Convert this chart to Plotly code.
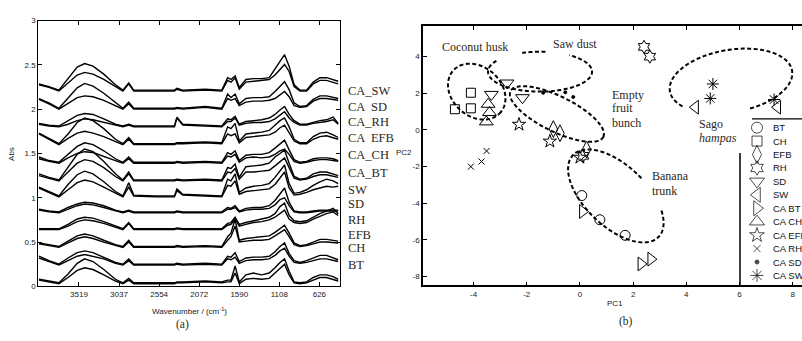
import numpy as np
import plotly.graph_objects as go

FIG_W, FIG_H = 802, 341

# ------------------------------------------------------------------
# (a) FTIR spectra (absorbance relative to each stacked baseline)
# ------------------------------------------------------------------
wavenumber = [4000, 3880, 3760, 3650, 3540, 3450, 3350, 3220, 3080, 2990,
              2920, 2860, 2600, 2370, 2340, 2270, 2000, 1800, 1730, 1690,
              1640, 1590, 1510, 1420, 1320, 1230, 1160, 1100, 1045, 990,
              930, 860, 780, 700, 620, 540, 460, 400]

group_labels = ["CA_SW", "CA  SD", "CA_RH", "CA  EFB", "CA_CH", "CA_BT",
                "SW", "SD", "RH", "EFB", "CH", "BT"]
group_offsets = [2.205, 2.00, 1.80, 1.60, 1.39, 1.19, 1.01, 0.83, 0.64, 0.44, 0.24, 0.03]
label_levels = [2.20, 2.02, 1.855, 1.67, 1.485, 1.285, 1.09, 0.925, 0.75, 0.585, 0.43, 0.245]

ca_sw_lo = [.07, .04, 0, .09, .18, .21, .19, .13, .05, 0, .08, 0, 0, 0, .02, 0, .01, 0, .12, .10,
            .15, .02, .10, .11, .12, .13, .18, .24, .30, .22, .05, 0, 0, .08, .12, .12, .10, .08]
ca_sw_hi = [.08, .05, .01, .14, .27, .31, .28, .19, .07, .01, .09, .01, .01, .01, .03, .01, .02, .01, .15, .13,
            .17, .04, .13, .14, .14, .15, .25, .33, .41, .28, .07, .01, .01, .10, .15, .15, .13, .11]
ca_sd_lo = [.11, .06, 0, .07, .13, .15, .14, .10, .04, 0, .06, 0, 0, 0, .01, 0, .02, 0, .12, .10,
            .12, .04, .08, .09, .09, .10, .12, .16, .20, .14, .04, .02, .03, .09, .12, .12, .11, .10]
ca_sd_hi = [.12, .07, .01, .12, .24, .29, .26, .18, .07, .01, .08, .01, .01, .01, .02, .01, .03, .01, .17, .13,
            .17, .06, .12, .13, .13, .14, .20, .26, .31, .22, .07, .03, .04, .11, .15, .15, .13, .12]
ca_rh_lo = [.03, .01, 0, .03, .07, .09, .08, .05, .02, 0, .02, 0, 0, 0, .10, .02, .01, 0, .06, .06,
            .10, .02, .04, .05, .05, .06, .09, .13, .17, .10, .05, .02, .02, .04, .05, .06, .08, .03]
ca_rh_hi = [.04, .02, .01, .07, .13, .15, .14, .09, .03, .01, .03, .01, .01, .01, .11, .03, .02, .01, .09, .08,
            .12, .03, .06, .07, .08, .10, .14, .19, .23, .14, .07, .03, .03, .05, .07, .08, .11, .04]
ca_efb_lo = [.12, .06, 0, .07, .13, .15, .13, .09, .03, 0, .06, 0, 0, 0, .01, .01, .02, .01, .12, .10,
             .12, .02, .08, .09, .10, .11, .14, .19, .22, .14, .04, .01, .01, .06, .09, .10, .08, .06]
ca_efb_hi = [.13, .07, .01, .12, .25, .30, .27, .18, .06, .01, .08, .01, .01, .01, .02, .02, .03, .02, .20, .18,
             .24, .04, .12, .13, .14, .16, .22, .27, .30, .20, .06, .02, .02, .09, .13, .14, .11, .08]
ca_ch_lo = [.05, .02, 0, .06, .11, .13, .12, .08, .03, 0, .05, 0, 0, 0, .01, 0, .01, 0, .08, .07,
            .10, .01, .06, .07, .06, .07, .10, .14, .16, .10, .02, 0, .01, .03, .04, .04, .03, .02]
ca_ch_hi = [.07, .03, .01, .10, .19, .23, .21, .14, .05, .01, .07, .01, .01, .01, .02, .01, .02, .01, .12, .10,
            .14, .03, .09, .10, .10, .12, .17, .22, .26, .15, .04, .01, .02, .05, .06, .06, .05, .03]
ca_bt_lo = [.06, .03, 0, .10, .20, .24, .22, .15, .05, 0, .08, 0, 0, 0, .01, 0, .01, 0, .10, .09,
            .14, .02, .10, .10, .11, .12, .17, .22, .26, .15, .03, .01, .02, .05, .07, .07, .05, .04]
ca_bt_hi = [.08, .04, .01, .16, .30, .36, .33, .22, .08, .01, .10, .01, .01, .01, .02, .01, .02, .01, .15, .14,
            .19, .04, .16, .17, .18, .20, .27, .31, .35, .20, .05, .02, .03, .08, .10, .10, .08, .06]
sw_lo = [.10, .05, 0, .08, .16, .19, .17, .11, .04, 0, .11, .01, 0, 0, .07, .02, .01, 0, .13, .12,
         .18, .03, .06, .07, .08, .09, .14, .22, .28, .10, .02, .03, .05, .08, .10, .12, .11, .12]
sw_hi = [.11, .06, .01, .14, .25, .29, .26, .17, .06, .01, .16, .02, .01, .01, .09, .03, .02, .01, .20, .18,
         .26, .05, .10, .12, .13, .15, .22, .30, .36, .15, .04, .05, .08, .13, .17, .20, .18, .15]
sd_lo = [.03, .01, 0, .04, .08, .10, .09, .06, .02, 0, .02, 0, 0, 0, .01, 0, 0, 0, .04, .04,
         .06, .01, .03, .04, .04, .05, .09, .15, .17, .08, .01, 0, 0, .01, .02, .02, .02, .02]
sd_hi = [.04, .02, .01, .06, .10, .12, .11, .08, .03, .01, .03, .01, .01, .01, .02, .01, .01, .01, .06, .05,
         .08, .02, .05, .06, .06, .08, .14, .22, .28, .12, .02, .01, .01, .02, .03, .03, .03, .03]
rh_lo = [0, 0, 0, .04, .09, .11, .10, .07, .03, 0, .07, 0, 0, 0, .01, 0, 0, 0, .05, .06,
         .12, .04, .06, .08, .09, .11, .14, .18, .22, .12, .08, .07, .08, .12, .15, .18, .20, .16]
rh_hi = [.01, .01, .01, .06, .12, .14, .13, .09, .04, .01, .08, .01, .01, .01, .02, .01, .01, .01, .07, .08,
         .14, .06, .08, .10, .12, .14, .18, .26, .30, .16, .10, .09, .10, .14, .18, .21, .24, .18]
efb_lo = [.04, .02, 0, .05, .10, .12, .10, .06, .02, 0, .06, 0, 0, 0, .01, 0, .01, 0, .08, .12,
          .24, .06, .07, .08, .08, .09, .13, .17, .20, .12, .03, .01, .02, .04, .06, .06, .05, .05]
efb_hi = [.05, .03, .01, .07, .13, .15, .13, .08, .03, .01, .08, .01, .01, .01, .02, .01, .02, .01, .12, .16,
          .32, .08, .10, .11, .12, .13, .17, .21, .25, .16, .05, .02, .03, .06, .09, .09, .08, .07]
ch_lo = [.08, .04, 0, .05, .10, .12, .10, .07, .02, 0, .05, 0, 0, 0, .01, 0, .01, 0, .07, .06,
         .09, .02, .05, .06, .06, .07, .11, .16, .19, .10, .03, .02, .03, .05, .07, .07, .05, .04]
ch_hi = [.10, .05, .01, .08, .14, .16, .14, .09, .03, .01, .07, .01, .01, .01, .02, .01, .02, .01, .10, .09,
         .14, .04, .08, .09, .09, .10, .15, .21, .25, .13, .05, .03, .05, .08, .11, .11, .08, .06]
bt_lo = [.04, .02, 0, .07, .15, .18, .16, .10, .03, 0, .04, 0, 0, 0, .01, .01, .02, .01, .02, .02,
         .12, 0, .05, .06, .05, .06, .12, .17, .22, .10, .01, 0, .01, .04, .07, .07, .05, .03]
bt_hi = [.05, .03, .01, .11, .23, .28, .25, .16, .05, .01, .06, .01, .01, .01, .02, .02, .03, .02, .04, .04,
         .20, .02, .10, .12, .10, .12, .18, .24, .28, .14, .02, .01, .02, .07, .10, .10, .08, .05]

spectra_lo = [ca_sw_lo, ca_sd_lo, ca_rh_lo, ca_efb_lo, ca_ch_lo, ca_bt_lo,
              sw_lo, sd_lo, rh_lo, efb_lo, ch_lo, bt_lo]
spectra_hi = [ca_sw_hi, ca_sd_hi, ca_rh_hi, ca_efb_hi, ca_ch_hi, ca_bt_hi,
              sw_hi, sd_hi, rh_hi, efb_hi, ch_hi, bt_hi]

wn_ticks = [3519, 3037, 2554, 2072, 1590, 1108, 626]
abs_ticks = [0, 0.5, 1, 1.5, 2, 2.5, 3]
abs_tick_text = ["0", "0.5", "1", "1.5", "2", "2.5", "3"]

# ------------------------------------------------------------------
# (b) PCA score plot
# ------------------------------------------------------------------
bt_pc1, bt_pc2 = [0.07, 0.75, 1.70], [-3.58, -4.90, -5.75]
ch_pc1, ch_pc2 = [-4.70, -4.10, -4.10], [1.13, 2.03, 1.18]
efb_pc1, efb_pc2 = [-1.00, -0.75, 0.25], [0.05, -0.18, -1.06]
rh_pc1, rh_pc2 = [2.41, 2.63, 0.12], [4.53, 4.00, -1.41]
sd_pc1, sd_pc2 = [-2.74, -2.16, -3.33], [2.56, 1.76, 1.94]
sw_pc1, sw_pc2 = [4.34, 7.43], [1.24, 1.24]
cabt_pc1, cabt_pc2 = [0.10, 2.30, 2.67], [-4.45, -7.31, -7.05]
cach_pc1, cach_pc2 = [-3.45, -3.40, -3.52], [1.40, 0.95, 0.44]
caefb_pc1, caefb_pc2 = [-2.29, -1.13, 0.00], [0.30, -0.62, -1.50]
carh_pc1, carh_pc2 = [-4.10, -3.70, -3.51], [-2.00, -1.72, -1.15]
casd_pc1, casd_pc2 = [-1.38, -0.55, -0.25], [2.03, 2.05, 1.80]
casw_pc1, casw_pc2 = [5.00, 4.90, 7.30], [2.51, 1.72, 1.66]

pca_names = ["BT", "CH", "EFB", "RH", "SD", "SW", "CA BT", "CA CH", "CA EFB", "CA RH", "CA SD", "CA SW"]
pca_x = [bt_pc1, ch_pc1, efb_pc1, rh_pc1, sd_pc1, sw_pc1, cabt_pc1, cach_pc1, caefb_pc1, carh_pc1, casd_pc1, casw_pc1]
pca_y = [bt_pc2, ch_pc2, efb_pc2, rh_pc2, sd_pc2, sw_pc2, cabt_pc2, cach_pc2, caefb_pc2, carh_pc2, casd_pc2, casw_pc2]
pca_symbols = ["circle-open", "square-open", "diamond-tall-open", "hexagram-open",
               "triangle-down-open", "triangle-left-open", "triangle-right-open",
               "triangle-up-open", "star-open", "x-thin-open", "circle", "asterisk-open"]
pca_sizes = [10, 9, 12, 10, 12, 12, 12, 12, 10, 6, 3, 10]

pc1_ticks = [-4, -2, 0, 2, 4, 6, 8]
pc2_ticks = [-8, -6, -4, -2, 0, 2, 4]

# cluster outlines: centre (data), semi-axes (px), tilt (deg), arc start/end (deg)
clusters = [
    dict(cx=-3.88, cy=2.09, a=32, b=25, ang=-45, arcs=[(0, 360)]),           # coconut husk
    dict(cx=-1.50, cy=3.18, a=52, b=20.5, ang=0, arcs=[(147, 416), (84, 110)]),  # saw dust
    dict(cx=-0.865, cy=0.87, a=52, b=18, ang=-27, arcs=[(0, 360)]),          # empty fruit bunch
    dict(cx=1.35, cy=-3.60, a=60, b=31, ang=-45, arcs=[(85, 407)]),          # banana trunk
    dict(cx=5.68, cy=2.67, a=62, b=32, ang=10, arcs=[(283, 575)]),           # sago hampas
]

# ------------------------------------------------------------------
# layout geometry (pixels)
# ------------------------------------------------------------------
A_L, A_R, A_T, A_B = 38.3, 340.0, 17.0, 290.0
B_L, B_R, B_T, B_B = 423.0, 802.0, 23.0, 289.0
XA_RANGE = [4008, 378]
XB_RANGE = [-5.9, 8.35]
YB_RANGE = [-8.48, 5.65]
SX = (B_R - B_L) / (XB_RANGE[1] - XB_RANGE[0])
SY = (B_B - B_T) / (YB_RANGE[1] - YB_RANGE[0])


def px(x):
    return x / FIG_W


def py(y):
    return 1 - y / FIG_H


SANS = "Liberation Sans, Arial, sans-serif"
SERIF = "Liberation Serif, Times New Roman, serif"
TXT = "#2e2820"

fig = go.Figure()

# spectra
for lo, hi, off in zip(spectra_lo, spectra_hi, group_offsets):
    for vals in (lo, hi):
        fig.add_trace(go.Scatter(
            x=wavenumber, y=np.array(vals) + off, mode="lines",
            line=dict(color="black", width=1.4), xaxis="x", yaxis="y",
            showlegend=False, hoverinfo="skip"))

# PCA points
for xs, ys, sym, sz in zip(pca_x, pca_y, pca_symbols, pca_sizes):
    fig.add_trace(go.Scatter(
        x=xs, y=ys, mode="markers", xaxis="x2", yaxis="y2",
        marker=dict(symbol=sym, size=sz, color="black",
                    line=dict(color="black", width=1)),
        showlegend=False, hoverinfo="skip"))

# manual legend (pixel overlay axis)
leg_x, leg_y0, leg_dy = 757, 127, 13.8
fig.add_trace(go.Scatter(
    x=[leg_x] * len(pca_names),
    y=[leg_y0 + i * leg_dy for i in range(len(pca_names))],
    mode="markers", xaxis="x3", yaxis="y3",
    marker=dict(symbol=pca_symbols, size=[s + 1 for s in pca_sizes], color="black",
                line=dict(color="black", width=1)),
    showlegend=False, hoverinfo="skip", cliponaxis=False))

shapes = []
# cluster ellipses
for c in clusters:
    th = np.radians(c["ang"])
    for t0, t1 in c["arcs"]:
        t = np.radians(np.linspace(t0, t1, 160))
        xp = c["a"] * np.cos(t) * np.cos(th) - c["b"] * np.sin(t) * np.sin(th)
        yp = c["a"] * np.cos(t) * np.sin(th) + c["b"] * np.sin(t) * np.cos(th)
        xs = c["cx"] + xp / SX
        ys = c["cy"] + yp / SY
        path = "M " + " L ".join(f"{u:.4f},{v:.4f}" for u, v in zip(xs, ys))
        shapes.append(dict(type="path", path=path, xref="x2", yref="y2",
                           line=dict(color="black", width=2, dash="4px,2.5px")))

# legend frame fragments
shapes.append(dict(type="line", xref="paper", yref="paper",
                   x0=px(752), x1=px(802), y0=py(118), y1=py(118),
                   line=dict(color="black", width=1.2)))
shapes.append(dict(type="line", xref="paper", yref="paper",
                   x0=px(740), x1=px(740), y0=py(153), y1=py(289),
                   line=dict(color="black", width=1.5)))

annotations = []
# spectrum labels
for lab, lev in zip(group_labels, label_levels):
    annotations.append(dict(text=lab, x=px(346), xref="paper", xanchor="left",
                            y=lev, yref="y", yanchor="middle", showarrow=False,
                            font=dict(family=SERIF, size=12.5, color=TXT)))
# legend texts
for i, name in enumerate(pca_names):
    annotations.append(dict(text=name, x=px(771), xref="paper", xanchor="left",
                            y=py(leg_y0 + i * leg_dy), yref="paper", yanchor="middle",
                            showarrow=False, font=dict(family=SANS, size=9.5, color="#111")))


def note(text, x, y, size=12, family=SERIF, xanchor="center", angle=0, color=TXT):
    annotations.append(dict(text=text, x=px(x), y=py(y), xref="paper", yref="paper",
                            xanchor=xanchor, yanchor="middle", showarrow=False,
                            textangle=angle, font=dict(family=family, size=size, color=color)))


note("Abs", 12, 154, size=8, family=SANS, angle=-90, color="#222")
note("Wavenumber / (cm<sup>-1</sup>)", 189, 315, size=8, family=SANS, color="#222")
note("(a)", 182, 329, size=11.5)
note("PC1", 615, 308, size=8, family=SANS, color="#222")
note("PC2", 404, 153, size=8, family=SANS, color="#222")
note("(b)", 626, 326, size=11.5)
note("Coconut husk", 475, 44, size=12)
note("Saw dust", 575, 41, size=12)
note("Empty", 610, 93, size=12, xanchor="left")
note("fruit", 610, 107, size=12, xanchor="left")
note("bunch", 610, 122, size=12, xanchor="left")
note("Sago", 697, 123, size=12, xanchor="left")
note("<i>hampas</i>", 697, 138, size=12, xanchor="left")
note("Banana", 650, 177, size=12, xanchor="left")
note("trunk", 650, 192, size=12, xanchor="left")

axis_common = dict(showgrid=False, zeroline=False, showline=True, linecolor="black",
                   ticks="inside", ticklen=4, tickcolor="black",
                   tickfont=dict(family=SANS, size=8, color="#222"))

fig.update_layout(
    width=FIG_W, height=FIG_H,
    margin=dict(l=0, r=0, t=0, b=0),
    paper_bgcolor="white", plot_bgcolor="rgba(0,0,0,0)",
    showlegend=False,
    xaxis=dict(domain=[px(A_L), px(A_R)], range=XA_RANGE, anchor="y",
               tickvals=wn_ticks, ticktext=[str(v) for v in wn_ticks],
               mirror="ticks", linewidth=1, **axis_common),
    yaxis=dict(domain=[py(A_B), py(A_T)], range=[0, 3], anchor="x",
               tickvals=abs_ticks, ticktext=abs_tick_text,
               mirror="ticks", linewidth=1, **axis_common),
    xaxis2=dict(domain=[px(B_L), 1.0], range=XB_RANGE, anchor="y2",
                tickvals=pc1_ticks, ticktext=[str(v) for v in pc1_ticks],
                mirror="ticks", linewidth=1.6, **axis_common),
    yaxis2=dict(domain=[py(B_B), py(B_T)], range=YB_RANGE, anchor="x2",
                tickvals=pc2_ticks, ticktext=[str(v) for v in pc2_ticks],
                mirror=False, linewidth=1.6, **axis_common),
    xaxis3=dict(domain=[0, 1], range=[0, FIG_W], anchor="y3", visible=False),
    yaxis3=dict(domain=[0, 1], range=[FIG_H, 0], anchor="x3", visible=False),
    shapes=shapes,
    annotations=annotations,
)

fig.write_html("out.html")
